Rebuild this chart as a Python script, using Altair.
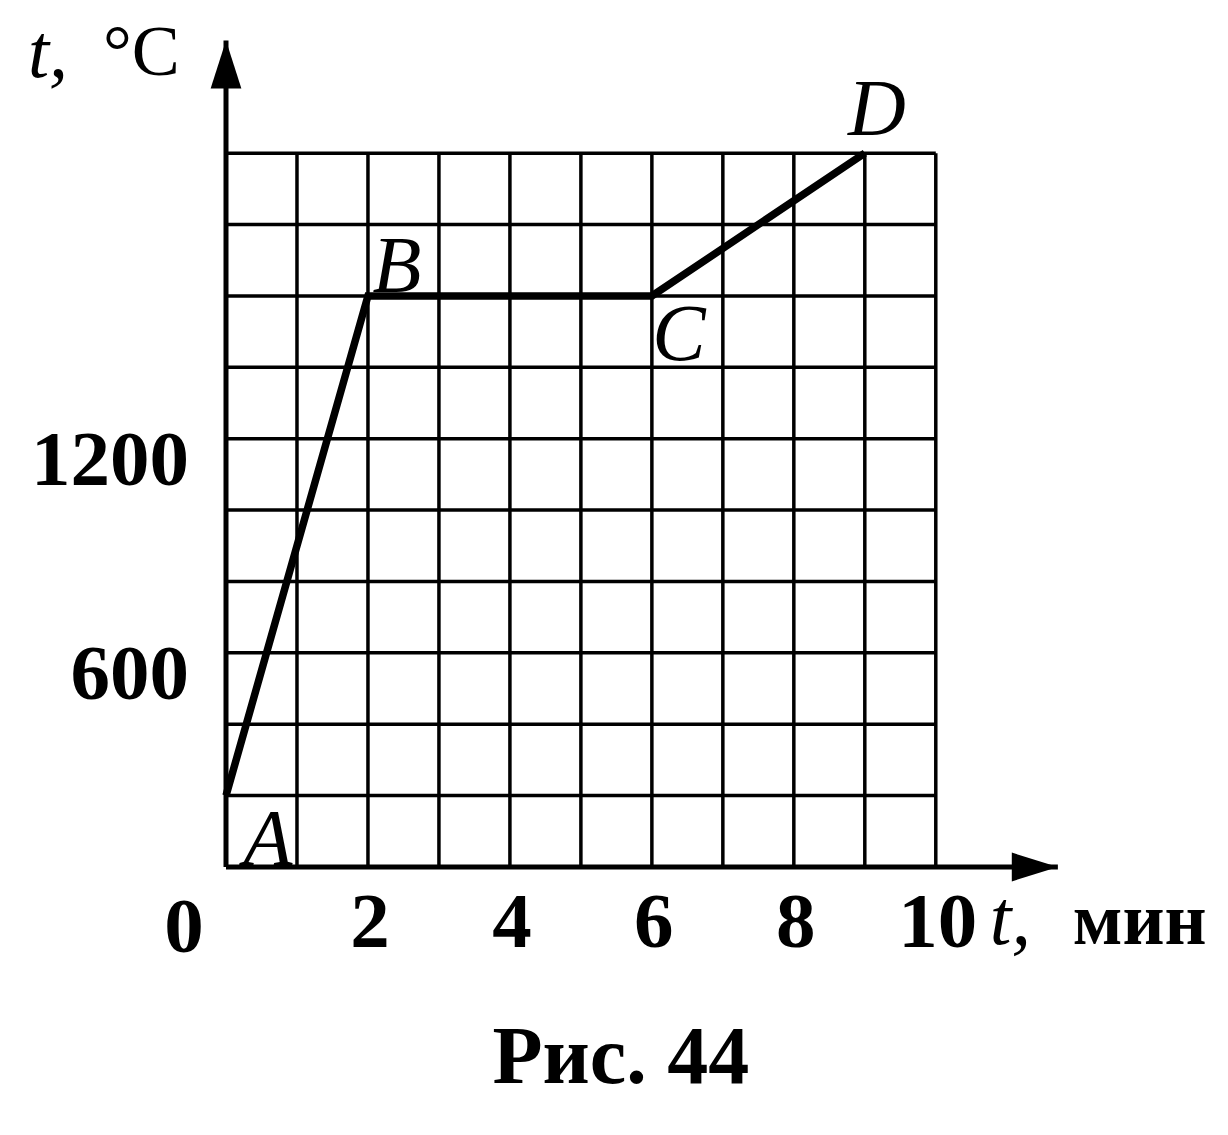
import altair as alt
import pandas as pd

# --- data ---
time_min = [0, 2, 6, 9]
temp_c = [200, 1600, 1600, 2000]
point_names = ["A", "B", "C", "D"]

x_tick_labels = [0, 2, 4, 6, 8, 10]
y_tick_labels = [600, 1200]

grid_x = [0, 1, 2, 3, 4, 5, 6, 7, 8, 9, 10]
grid_y = [0, 200, 400, 600, 800, 1000, 1200, 1400, 1600, 1800, 2000]
grid_x_max = 10
grid_y_max = 2000
x_arrow_tip = 11.72
y_arrow_tip = 2316

caption = "Рис. 44"

# --- scales ---
xs = alt.Scale(domain=[0, 11.75], nice=False, zero=False)
ys = alt.Scale(domain=[0, 2320], nice=False, zero=False)

SERIF = "Liberation Serif"

curve = pd.DataFrame({"x": time_min, "y": temp_c, "name": point_names})
gx = pd.DataFrame({"x": grid_x, "y0": 0, "y1": grid_y_max})
gy = pd.DataFrame({"y": grid_y, "x0": 0, "x1": grid_x_max})
origin = pd.DataFrame({"x": [0], "y": [0], "xt": [x_arrow_tip], "yt": [y_arrow_tip]})

base = alt.Chart(curve)

vgrid = alt.Chart(gx).mark_rule(color="black", strokeWidth=3.5).encode(
    x=alt.X("x:Q", scale=xs, axis=None),
    y=alt.Y("y0:Q", scale=ys, axis=None),
    y2="y1:Q",
)
hgrid = alt.Chart(gy).mark_rule(color="black", strokeWidth=3.5).encode(
    y=alt.Y("y:Q", scale=ys, axis=None),
    x=alt.X("x0:Q", scale=xs, axis=None),
    x2="x1:Q",
)

yaxis = alt.Chart(origin).mark_rule(color="black", strokeWidth=5).encode(
    x=alt.X("x:Q", scale=xs, axis=None),
    y=alt.Y("y:Q", scale=ys, axis=None),
    y2="yt:Q",
)
xaxis = alt.Chart(origin).mark_rule(color="black", strokeWidth=5).encode(
    y=alt.Y("y:Q", scale=ys, axis=None),
    x=alt.X("x:Q", scale=xs, axis=None),
    x2="xt:Q",
)

y_arrow = alt.Chart(origin).mark_point(
    shape="M0,0L0.64,2L-0.64,2Z", size=2304, filled=True, fill="black",
    strokeWidth=0, opacity=1,
).encode(
    x=alt.X("x:Q", scale=xs, axis=None),
    y=alt.Y("yt:Q", scale=ys, axis=None),
)
x_arrow = alt.Chart(origin).mark_point(
    shape="M0,0L-1.92,-0.6L-1.92,0.6Z", size=2304, filled=True, fill="black",
    strokeWidth=0, opacity=1,
).encode(
    x=alt.X("xt:Q", scale=xs, axis=None),
    y=alt.Y("y:Q", scale=ys, axis=None),
)

line = base.mark_line(color="black", strokeWidth=7.5, strokeJoin="miter").encode(
    x=alt.X("x:Q", scale=xs, axis=None),
    y=alt.Y("y:Q", scale=ys, axis=None),
    order="x:Q",
)

# point labels
offsets = {"A": (42, 69), "B": (29, -4), "C": (27, 64), "D": (12, -18)}
plabels = []
for nm, (dx, dy) in offsets.items():
    plabels.append(
        base.transform_filter(alt.datum.name == nm)
        .mark_text(font=SERIF, fontStyle="italic", fontSize=80, dx=dx, dy=dy,
                   align="center", baseline="alphabetic", color="black")
        .encode(
            x=alt.X("x:Q", scale=xs, axis=None),
            y=alt.Y("y:Q", scale=ys, axis=None),
            text="name:N",
        )
    )

xt = pd.DataFrame({"x": x_tick_labels, "y": 0})
xt["label"] = xt["x"].astype(str)
xticks_main = alt.Chart(xt).transform_filter(alt.datum.x > 0).mark_text(
    font=SERIF, fontWeight="bold", fontSize=79, dy=80, dx=2,
    align="center", baseline="alphabetic", color="black",
).encode(
    x=alt.X("x:Q", scale=xs, axis=None),
    y=alt.Y("y:Q", scale=ys, axis=None),
    text="label:N",
)
xtick_zero = alt.Chart(xt).transform_filter(alt.datum.x == 0).mark_text(
    font=SERIF, fontWeight="bold", fontSize=79, dy=85, dx=-42,
    align="center", baseline="alphabetic", color="black",
).encode(
    x=alt.X("x:Q", scale=xs, axis=None),
    y=alt.Y("y:Q", scale=ys, axis=None),
    text="label:N",
)

yt = pd.DataFrame({"y": y_tick_labels, "x": 0})
yt["label"] = yt["y"].astype(str)
yticks = alt.Chart(yt).mark_text(
    font=SERIF, fontWeight="bold", fontSize=79, dx=-37, dy=46,
    align="right", baseline="alphabetic", color="black",
).encode(
    x=alt.X("x:Q", scale=xs, axis=None),
    y=alt.Y("y:Q", scale=ys, axis=None),
    text="label:N",
)

# axis titles
ttl = pd.DataFrame({"x": [0], "y": [y_arrow_tip], "xr": [grid_x_max], "y0": [0]})
ytitle_t = alt.Chart(ttl).mark_text(
    font=SERIF, fontStyle="italic", fontSize=76, dx=-198, dy=37,
    align="left", baseline="alphabetic", color="black",
).encode(
    x=alt.X("x:Q", scale=xs, axis=None),
    y=alt.Y("y:Q", scale=ys, axis=None),
    text=alt.value("t,"),
)
ytitle_u = alt.Chart(ttl).mark_text(
    font=SERIF, fontSize=72, dx=-123, dy=35,
    align="left", baseline="alphabetic", color="black",
).encode(
    x=alt.X("x:Q", scale=xs, axis=None),
    y=alt.Y("y:Q", scale=ys, axis=None),
    text=alt.value("°C"),
)
xtitle_t = alt.Chart(ttl).mark_text(
    font=SERIF, fontStyle="italic", fontSize=78, dx=54, dy=77,
    align="left", baseline="alphabetic", color="black",
).encode(
    x=alt.X("xr:Q", scale=xs, axis=None),
    y=alt.Y("y0:Q", scale=ys, axis=None),
    text=alt.value("t,"),
)
xtitle_u = alt.Chart(ttl).mark_text(
    font=SERIF, fontWeight="bold", fontSize=73, dx=137, dy=77,
    align="left", baseline="alphabetic", color="black",
).encode(
    x=alt.X("xr:Q", scale=xs, axis=None),
    y=alt.Y("y0:Q", scale=ys, axis=None),
    text=alt.value("мин"),
)

cap = pd.DataFrame({"x": [5], "y": [0], "label": [caption]})
caption_text = alt.Chart(cap).mark_text(
    font=SERIF, fontWeight="bold", fontSize=82, dx=40, dy=216,
    align="center", baseline="alphabetic", color="black",
).encode(
    x=alt.X("x:Q", scale=xs, axis=None),
    y=alt.Y("y:Q", scale=ys, axis=None),
    text="label:N",
)

chart = alt.layer(
    vgrid, hgrid, yaxis, xaxis, y_arrow, x_arrow, line, *plabels,
    xticks_main, xtick_zero, yticks, ytitle_t, ytitle_u, xtitle_t, xtitle_u,
    caption_text,
).properties(
    width=834, height=828,
    autosize=alt.AutoSizeParams(type="none"),
    padding={"left": 218, "top": 31, "right": 160, "bottom": 260},
    background="white",
).configure_view(stroke=None)

chart.save("out.html", embed_options={"renderer": "svg", "actions": False})
